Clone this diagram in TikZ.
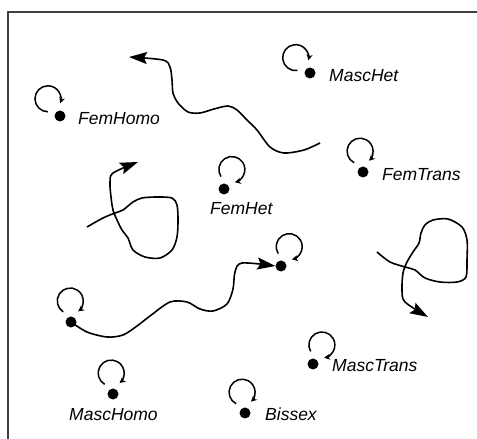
\documentclass[tikz,border=0pt]{standalone}
\usepackage{fontspec}
\setmainfont{Liberation Sans}
\usepackage{tikz}
\usetikzlibrary{arrows.meta,calc}

\definecolor{framegray}{HTML}{404040}

% small loop above a dot, #2 = direction of the loop
\newcommand{\selfloop}[2]{%
  \draw[loopline] ($(#1)+(#2:21)+(#2+145:13)$)
    arc[start angle=#2+145, end angle=#2-145, radius=13];}

\begin{document}
\begin{tikzpicture}[x=1pt,y=1pt,
    font=\fontsize{17.5}{21}\selectfont\itshape,
    dotnode/.style={circle, fill, inner sep=0pt, minimum size=11pt},
    lbl/.style={anchor=base west, inner sep=0pt},
    loopline/.style={line width=1.5pt, -{Stealth[length=6pt,width=6pt]}},
    wave/.style={line width=1.6pt, -{Stealth[length=18pt,width=12pt,inset=3pt]}}]

\useasboundingbox (0,0) rectangle (477,439);

% Frame
\draw[framegray, line width=2.2pt] (477,427) -- (8,427) -- (8,0);

% Free ends of the curves
\coordinate (a0) at (320,296);
\coordinate (a1) at (129,382);
\coordinate (b0) at (87,212);
\coordinate (b1) at (138,277);
\coordinate (c0) at (377,187);
\coordinate (c1) at (428,122);

% Dots
\node[dotnode] (femhomo) at (60,323) {};
\node[dotnode] (maschet) at (310,366) {};
\node[dotnode] (femtrans) at (363,267) {};
\node[dotnode] (femhet) at (224,250) {};
\node[dotnode] (left) at (71,117) {};
\node[dotnode] (right) at (281,173) {};
\node[dotnode] (maschomo) at (113,45) {};
\node[dotnode] (masctrans) at (313,75) {};
\node[dotnode] (bissex) at (245,26) {};

% Labels
\node[lbl] (femhomolbl) at (78,314) {FemHomo};
\node[lbl] (maschetlbl) at (329,357) {MascHet};
\node[lbl] (femtranslbl) at (382,258) {FemTrans};
\node[lbl] (femhetlbl) at (210,224) {FemHet};
\node[lbl] (maschomolbl) at (69,18) {MascHomo};
\node[lbl] (bissexlbl) at (265,18) {Bissex};
\node[lbl] (masctranslbl) at (332,67) {MascTrans};

% Loops
\selfloop{femhomo}{125}
\selfloop{maschet}{133}
\selfloop{femtrans}{98}
\selfloop{femhet}{68}
\selfloop{left}{92}
\selfloop{right}{67}
\selfloop{maschomo}{95}
\selfloop{masctrans}{65}
\selfloop{bissex}{98}

% Curves
\draw[wave] plot[smooth] coordinates {(a0) (304,289) (284,286) (270,292)
    (257,309) (247,319) (237,329) (228,333) (214,330) (200,326) (188,327)
    (178,336) (173,346) (172,359) (170,372) (163,379) (a1)};

\draw[wave] plot[smooth] coordinates {(b0) (103,221) (115,226) (123,229)
    (133,237) (142,241) (157,242) (172,241) (177,234) (178,219) (177,202)
    (172,189) (160,181) (145,182) (133,189) (128,201) (122,209) (117,219)
    (113,229) (111,242) (110,256) (113,266) (b1)};

\draw[wave] plot[smooth] coordinates {(c0) (390,177) (405,172) (415,169)
    (425,161) (440,157) (457,157) (466,162) (467,179) (467,199) (462,212)
    (448,220) (433,219) (425,214) (421,206) (419,196) (413,187) (407,177)
    (403,166) (402,149) (405,137) (c1)};

\draw[wave] plot[smooth] coordinates {(left) (87,107) (107,102) (123,104)
    (137,113) (150,123) (170,137) (187,137) (200,130) (213,128) (227,135)
    (233,150) (235,167) (242,176) (right.west)};

\end{tikzpicture}
\end{document}
